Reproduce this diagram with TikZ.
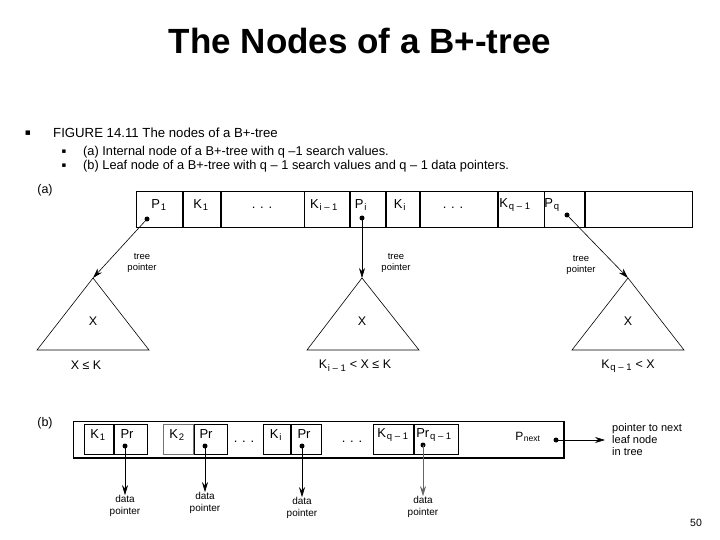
\documentclass[tikz,border=0pt]{standalone}
\usepackage{fontspec}
\setmainfont{Liberation Sans}
\newfontfamily\symfont{DejaVu Sans}
\usetikzlibrary{arrows.meta}
\newcommand\sbs[1]{\kern0.8pt\textsubscript{\fontsize{9.5}{10}\selectfont #1}}
\begin{document}
\begin{tikzpicture}[x=1pt,y=-1pt,
 cell/.style={draw,line width=0.8pt,minimum height=36pt,inner sep=0pt,anchor=north west},
 lcell/.style={draw,line width=0.8pt,minimum height=30pt,inner sep=0pt,anchor=north west},
 lbl/.style={font=\fontsize{13}{15}\selectfont,inner sep=0pt},
 small/.style={font=\fontsize{10}{12}\selectfont,align=center,inner sep=0pt},
 tp/.style={font=\fontsize{9.5}{11.5}\selectfont,align=center,inner sep=0pt},
 xlbl/.style={font=\fontsize{12.5}{14}\selectfont,inner sep=0pt},
 ptr/.style={-{Stealth[length=10pt,width=6pt]},line width=0.6pt},
 dotc/.style={circle,fill,inner sep=0pt,minimum size=5pt},
 tri/.style={line width=0.6pt}
]
\useasboundingbox (0,0) rectangle (720,540);
% title
\node[font=\fontsize{35}{40}\bfseries\selectfont,anchor=base,inner sep=0pt] (title) at (360,54) {The Nodes of a B+-tree};
% bullets
\node[font=\symfont\fontsize{9}{10}\selectfont,inner sep=0pt] (b0) at (28,133) {▪};
\node[font=\fontsize{13.2}{15}\selectfont,anchor=west,inner sep=0pt] (t0) at (53,133) {FIGURE 14.11 The nodes of a B+-tree};
\node[font=\symfont\fontsize{7}{8}\selectfont,inner sep=0pt] (b1) at (64,152) {▪};
\node[font=\fontsize{12.8}{14}\selectfont,anchor=west,inner sep=0pt] (t1) at (83,152) {(a) Internal node of a B+-tree with q –1 search values.};
\node[font=\symfont\fontsize{7}{8}\selectfont,inner sep=0pt] (b2) at (64,166) {▪};
\node[font=\fontsize{12.8}{14}\selectfont,anchor=west,inner sep=0pt] (t2) at (83,166) {(b) Leaf node of a B+-tree with q – 1 search values and q – 1 data pointers.};
% (a)
\node[font=\fontsize{12.5}{14}\selectfont,inner sep=0pt] (la) at (45,190) {(a)};
\node[cell,minimum width=46pt] (c1) at (136,191) {};
\node[cell,minimum width=37pt] (c2) at (c1.north east) {};
\node[cell,minimum width=83pt] (c3) at (c2.north east) {};
\node[cell,minimum width=45pt] (c4) at (c3.north east) {};
\node[cell,minimum width=35pt] (c5) at (c4.north east) {};
\node[cell,minimum width=33pt] (c6) at (c5.north east) {};
\node[cell,minimum width=77pt] (c7) at (c6.north east) {};
\node[cell,minimum width=46pt] (c8) at (c7.north east) {};
\node[cell,minimum width=40pt] (c9) at (c8.north east) {};
\node[cell,minimum width=107pt] (c10) at (c9.north east) {};
\node[lbl] at (159,205) {P\sbs{1}};
\node[lbl] at (201,205) {K\sbs{1}};
\node[lbl] at (262,208) {. . .};
\node[lbl] at (324,205) {K\sbs{i – 1}};
\node[lbl] at (361,205) {P\sbs{i}};
\node[lbl] at (400,205) {K\sbs{i}};
\node[lbl] at (453,208) {. . .};
\node[lbl] at (515,205) {K\sbs{q – 1}};
\node[lbl] at (552,205) {P\sbs{q}};
\node[dotc] (d1) at (147,219) {};
\node[dotc] (d2) at (362,218) {};
\node[dotc] (d3) at (567,215) {};
% triangles
\coordinate (a1) at (93,278);
\coordinate (a2) at (362,278);
\coordinate (a3) at (628,278);
\draw[tri] (a1) -- ++(-56,72) -- ++(112,0) -- cycle;
\draw[tri] (a2) -- ++(-55,72) -- ++(112,0) -- cycle;
\draw[tri] (a3) -- ++(-56,72) -- ++(112,0) -- cycle;
\draw[ptr] (d1.center) -- (a1);
\draw[ptr] (d2.center) -- (a2);
\draw[ptr] (d3.center) -- (a3);
\node[tp] at (142,263) {tree\\pointer};
\node[tp] at (396,263) {tree\\pointer};
\node[tp] at (581,265) {tree\\pointer};
\node[xlbl] at (93,321) {X};
\node[xlbl] at (362,321) {X};
\node[xlbl] at (628,321) {X};
\node[xlbl] at (86,365) {X ≤ K};
\node[xlbl] at (355,366) {K\sbs{i – 1} < X ≤ K};
\node[xlbl] at (628,366) {K\sbs{q – 1} < X};
% (b)
\node[font=\fontsize{12.5}{14}\selectfont,inner sep=0pt] (lb) at (45,423) {(b)};
\draw[line width=0.8pt] (73,421) rectangle (564,458);
\draw[line width=1.2pt] (73,458) -- (564,458) -- (564,421);
\node[lcell,minimum width=29pt] (k1) at (84,424) {};
\node[lcell,minimum width=33pt] (r1) at (k1.north east) {};
\node[lcell,minimum width=30pt,draw=black!55] (k2) at (163,424) {};
\node[lcell,minimum width=33pt] (r2) at (k2.north east) {};
\node[lcell,minimum width=27pt] (k3) at (263,424) {};
\node[lcell,minimum width=30pt] (r3) at (k3.north east) {};
\node[lcell,minimum width=40pt] (k4) at (373,424) {};
\node[lcell,minimum width=44pt] (r4) at (k4.north east) {};
\node[lbl] at (98,435) {K\sbs{1}};
\node[lbl] at (127,434) {Pr};
\node[lbl] at (177,435) {K\sbs{2}};
\node[lbl] at (206,434) {Pr};
\node[lbl] at (276,435) {K\sbs{i}};
\node[lbl] at (304,434) {Pr};
\node[lbl] at (393,435) {K\sbs{q – 1}};
\node[lbl] at (434,435) {Pr\sbs{q – 1}};
\node[lbl] at (244,442) {. . .};
\node[lbl] at (352,442) {. . .};
\node[font=\fontsize{12}{14}\selectfont,inner sep=0pt] at (528,437) {P\kern0.5pt\textsubscript{\fontsize{8.5}{9}\selectfont next}};
\node[dotc] (e1) at (125,446) {};
\node[dotc] (e2) at (205,446) {};
\node[dotc] (e3) at (302,446) {};
\node[dotc] (e4) at (423,445) {};
\node[dotc] (e5) at (556,440) {};
\node[small] (p1) at (125,506) {data\\pointer};
\node[small] (p2) at (205,503) {data\\pointer};
\node[small] (p3) at (302,508) {data\\pointer};
\node[small] (p4) at (423,507) {data\\pointer};
\draw[ptr] (e1.center) -- (p1.north);
\draw[ptr] (e2.center) -- (p2.north);
\draw[ptr] (e3.center) -- (p3.north);
\draw[ptr,draw=black!60] (e4.center) -- (p4.north);
\node[font=\fontsize{11}{12}\selectfont,align=left,anchor=west,inner sep=0pt] (nx) at (612,440) {pointer to next\\leaf node\\in tree};
\draw[ptr] (e5.center) -- ([xshift=-7pt]nx.west);
\node[font=\fontsize{10.5}{12}\selectfont,inner sep=0pt] (pg) at (696,523) {50};
\end{tikzpicture}
\end{document}
